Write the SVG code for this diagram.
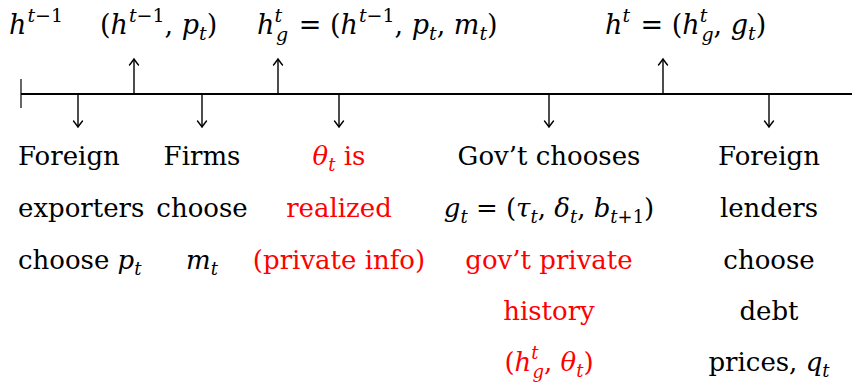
<svg xmlns="http://www.w3.org/2000/svg" width="852" height="384" viewBox="0 0 852 384">
<style>
text{font-family:"DejaVu Serif","Liberation Serif","Noto Serif",serif;font-size:26px;fill:#000}
.top{font-size:27px}
.r{fill:#ff0000}
.i{font-style:italic}
.s{font-size:18px}
.top .s{font-size:19px}
.c{text-anchor:middle}
.ln{stroke:#000;fill:none}
</style>
<defs>
<marker id="ah" markerUnits="userSpaceOnUse" markerWidth="20" markerHeight="20" viewBox="-10 -10 20 20" refX="0" refY="0" orient="auto" overflow="visible">
<path d="M-6,-4.5 Q-1.5,-1 0,0 Q-1.5,1 -6,4.5" stroke="#000" stroke-width="1.4" fill="none" stroke-linecap="round"/>
</marker>
</defs>
<rect width="852" height="384" fill="#fff"/>
<g id="connectors">
<line class="ln" x1="21" y1="94" x2="852" y2="94" stroke-width="1.8"/>
<line class="ln" x1="21" y1="79" x2="21" y2="108" stroke-width="1.2" stroke="#555"/>
<line class="ln" x1="134" y1="94" x2="134" y2="59" stroke-width="1.4" marker-end="url(#ah)"/>
<line class="ln" x1="278" y1="94" x2="278" y2="59" stroke-width="1.4" marker-end="url(#ah)"/>
<line class="ln" x1="663" y1="94" x2="663" y2="59" stroke-width="1.4" marker-end="url(#ah)"/>
<line class="ln" x1="78" y1="94" x2="78" y2="127" stroke-width="1.4" marker-end="url(#ah)"/>
<line class="ln" x1="202" y1="94" x2="202" y2="127" stroke-width="1.4" marker-end="url(#ah)"/>
<line class="ln" x1="339" y1="94" x2="339" y2="127" stroke-width="1.4" marker-end="url(#ah)"/>
<line class="ln" x1="549" y1="94" x2="549" y2="127" stroke-width="1.4" marker-end="url(#ah)"/>
<line class="ln" x1="769" y1="94" x2="769" y2="127" stroke-width="1.4" marker-end="url(#ah)"/>
</g>
<g id="label-h-prev">
<text class="top" x="9" y="34"><tspan class="i">h</tspan><tspan class="s" dy="-12" dx="1"><tspan class="i">t</tspan>−1</tspan></text>
</g>
<g id="label-h-p">
<text class="top" x="100" y="34">(<tspan class="i">h</tspan><tspan class="s" dy="-12" dx="1"><tspan class="i">t</tspan>−1</tspan><tspan dy="12">, </tspan><tspan class="i">p</tspan><tspan class="s i" dy="6">t</tspan><tspan dy="-6">)</tspan></text>
</g>
<g id="label-hg">
<text class="top" x="257" y="34"><tspan class="i">h</tspan><tspan class="s i" dy="-12">t</tspan><tspan class="s i" dx="-6" dy="19">g</tspan><tspan dy="-7" dx="2"> = (</tspan><tspan class="i">h</tspan><tspan class="s" dy="-12" dx="1"><tspan class="i">t</tspan>−1</tspan><tspan dy="12">, </tspan><tspan class="i">p</tspan><tspan class="s i" dy="6">t</tspan><tspan dy="-6">, </tspan><tspan class="i">m</tspan><tspan class="s i" dy="6">t</tspan><tspan dy="-6">)</tspan></text>
</g>
<g id="label-ht">
<text class="top" x="605" y="34"><tspan class="i">h</tspan><tspan class="s i" dy="-12">t</tspan><tspan dy="12" dx="2"> = (</tspan><tspan class="i">h</tspan><tspan class="s i" dy="-12">t</tspan><tspan class="s i" dx="-6" dy="19">g</tspan><tspan dy="-7">, </tspan><tspan class="i">g</tspan><tspan class="s i" dy="6">t</tspan><tspan dy="-6">)</tspan></text>
</g>
<g id="node-exporters">
<text x="18" y="165">Foreign</text>
<text x="18" y="217">exporters</text>
<text x="18" y="269">choose <tspan class="i">p</tspan><tspan class="s i" dy="6">t</tspan></text>
</g>
<g id="node-firms">
<text class="c" x="202" y="165">Firms</text>
<text class="c" x="202" y="217">choose</text>
<text class="c" x="202" y="269"><tspan class="i">m</tspan><tspan class="s i" dy="6">t</tspan></text>
</g>
<g id="node-theta">
<text class="c r" x="339" y="165"><tspan class="i">θ</tspan><tspan class="s i" dy="6">t</tspan><tspan dy="-6"> is</tspan></text>
<text class="c r" x="339" y="217">realized</text>
<text class="c r" x="339" y="269">(private info)</text>
</g>
<g id="node-gov">
<text class="c" x="549" y="165">Gov’t chooses</text>
<text class="c" x="549" y="217"><tspan class="i">g</tspan><tspan class="s i" dy="6">t</tspan><tspan dy="-6"> = (</tspan><tspan class="i">τ</tspan><tspan class="s i" dy="6">t</tspan><tspan dy="-6">, </tspan><tspan class="i">δ</tspan><tspan class="s i" dy="6">t</tspan><tspan dy="-6">, </tspan><tspan class="i">b</tspan><tspan class="s" dy="6"><tspan class="i">t</tspan>+1</tspan><tspan dy="-6">)</tspan></text>
<text class="c r" x="549" y="269">gov’t private</text>
<text class="c r" x="549" y="320">history</text>
<text class="c r" x="549" y="371">(<tspan class="i">h</tspan><tspan class="s i" dy="-12">t</tspan><tspan class="s i" dx="-6" dy="19">g</tspan><tspan dy="-7">, </tspan><tspan class="i">θ</tspan><tspan class="s i" dy="6">t</tspan><tspan dy="-6">)</tspan></text>
</g>
<g id="node-lenders">
<text class="c" x="769" y="165">Foreign</text>
<text class="c" x="769" y="217">lenders</text>
<text class="c" x="769" y="269">choose</text>
<text class="c" x="769" y="320">debt</text>
<text class="c" x="769" y="371">prices, <tspan class="i">q</tspan><tspan class="s i" dy="6">t</tspan></text>
</g>
</svg>
